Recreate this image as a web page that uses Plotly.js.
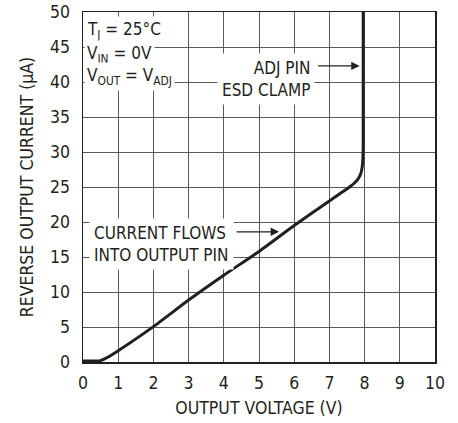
<!DOCTYPE html>
<html>
<head>
<meta charset="utf-8">
<script src="https://cdn.plot.ly/plotly-3.0.1.min.js"></script>
<style>html,body{margin:0;padding:0;background:#fff;}#chart{width:458px;height:423px;}</style>
</head>
<body>
<div id="chart"></div>
<script>
const outputVoltage = [0, 0.45, 0.55, 0.65, 0.75, 1, 2, 3, 4, 5, 6, 7, 7.6, 7.72, 7.82, 7.89, 7.93, 7.95, 7.96, 7.96];
const reverseCurrent = [0.15, 0.15, 0.3, 0.55, 0.8, 1.6, 5.05, 8.85, 12.4, 15.8, 19.5, 23, 25.1, 25.6, 26.2, 26.9, 27.8, 29, 31, 50];
const xTicks = [0,1,2,3,4,5,6,7,8,9,10];
const yTicks = [0,5,10,15,20,25,30,35,40,45,50];
const conditionLabels = ["T<sub>J</sub> = 25°C", "V<sub>IN</sub> = 0V", "V<sub>OUT</sub> = V<sub>ADJ</sub>"];
const adjLabel = "ADJ PIN<br>ESD CLAMP";
const flowLabel = "CURRENT FLOWS<br>INTO OUTPUT PIN";

const FONT = '"Liberation Sans Narrow", "Arial Narrow", "DejaVu Sans Condensed", sans-serif';
const INK = '#231f20';

const trace = {
  x: outputVoltage, y: reverseCurrent, type: 'scatter', mode: 'lines',
  line: {color: INK, width: 3, shape: 'spline', smoothing: 0.5},
  hoverinfo: 'skip'
};

const annFont = {family: FONT, size: 17, color: INK};
const annotations = [
  {x: 0, y: 47.3, xref: 'x', yref: 'y', text: conditionLabels[0], font: annFont, xanchor: 'left', yanchor: 'middle', xshift: 1, showarrow: false, bgcolor: '#fff', borderpad: 2},
  {x: 0, y: 44.0, xref: 'x', yref: 'y', text: conditionLabels[1], font: annFont, xanchor: 'left', yanchor: 'middle', xshift: 1, showarrow: false, bgcolor: '#fff', borderpad: 2},
  {x: 0, y: 40.8, xref: 'x', yref: 'y', text: conditionLabels[2], font: annFont, xanchor: 'left', yanchor: 'middle', xshift: 1, showarrow: false, bgcolor: '#fff', borderpad: 2},
  {x: 6.58, y: 40.5, xref: 'x', yref: 'y', text: adjLabel, font: annFont, xanchor: 'right', yanchor: 'middle', align: 'right', showarrow: false, bgcolor: '#fff', borderpad: 4},
  {x: 7.86, y: 42.3, ax: 6.64, ay: 42.3, xref: 'x', yref: 'y', axref: 'x', ayref: 'y', text: '', showarrow: true, arrowhead: 2, arrowsize: 1.4, arrowwidth: 1.2, arrowcolor: INK},
  {x: 0.18, y: 16.9, xref: 'x', yref: 'y', text: flowLabel, font: annFont, xanchor: 'left', yanchor: 'middle', align: 'left', showarrow: false, bgcolor: '#fff', borderpad: 4},
  {x: 5.57, y: 18.6, ax: 4.32, ay: 18.6, xref: 'x', yref: 'y', axref: 'x', ayref: 'y', text: '', showarrow: true, arrowhead: 2, arrowsize: 1.4, arrowwidth: 1.2, arrowcolor: INK}
];

const layout = {
  width: 458, height: 423,
  margin: {l: 83, r: 23, t: 12, b: 61, pad: 0},
  paper_bgcolor: '#fff', plot_bgcolor: '#fff',
  showlegend: false,
  font: {family: FONT, size: 17, color: INK},
  xaxis: {
    range: [0, 10], tickvals: xTicks, ticktext: xTicks.map(String),
    showgrid: true, gridcolor: '#5a5a5a', gridwidth: 1,
    zeroline: false, showline: true, linecolor: INK, linewidth: 1.5, mirror: true,
    ticks: '', ticklabelstandoff: 4,
    tickfont: {family: FONT, size: 17.5, color: INK},
    title: {text: 'OUTPUT VOLTAGE (V)', font: {family: FONT, size: 17.5, color: INK}, standoff: 10}
  },
  yaxis: {
    range: [0, 50], tickvals: yTicks, ticktext: yTicks.map(String),
    showgrid: true, gridcolor: '#5a5a5a', gridwidth: 1,
    zeroline: false, showline: true, linecolor: INK, linewidth: 1.5, mirror: true,
    ticks: '', ticklabelstandoff: 8,
    tickfont: {family: FONT, size: 17.5, color: INK},
    title: {text: 'REVERSE OUTPUT CURRENT (µA)', font: {family: FONT, size: 17.5, color: INK}, standoff: 12}
  },
  annotations: annotations
};

Plotly.newPlot('chart', [trace], layout, {staticPlot: true, displayModeBar: false});
</script>
</body>
</html>
